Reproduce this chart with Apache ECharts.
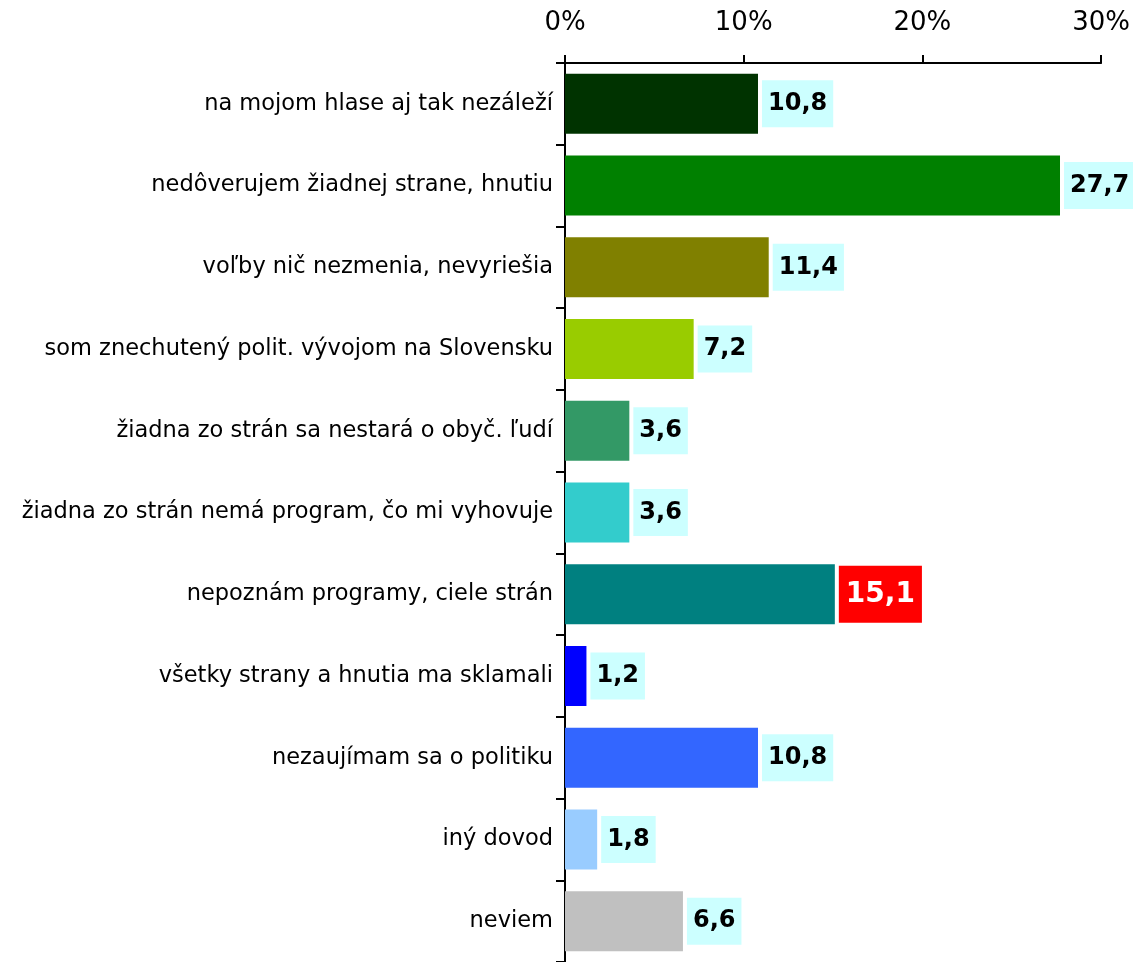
<!DOCTYPE html>
<html lang="sk">
<head>
    <meta charset="UTF-8">
    <title>Dôvody neúčasti</title>
    <style>
        html, body { margin: 0; padding: 0; background: #fff; }
        #main { width: 1133px; height: 962px; }
    </style>
</head>
<body>
<div id="main"></div>
<script src="https://cdn.jsdelivr.net/npm/echarts@6/dist/echarts.min.js"></script>
<script>
    var categories = [
        'na mojom hlase aj tak nezáleží',
        'nedôverujem žiadnej strane, hnutiu',
        'voľby nič nezmenia, nevyriešia',
        'som znechutený polit. vývojom na Slovensku',
        'žiadna zo strán sa nestará o obyč. ľudí',
        'žiadna zo strán nemá program, čo mi vyhovuje',
        'nepoznám programy, ciele strán',
        'všetky strany a hnutia ma sklamali',
        'nezaujímam sa o politiku',
        'iný dovod',
        'neviem'
    ];
    var values = [10.8, 27.7, 11.4, 7.2, 3.6, 3.6, 15.1, 1.2, 10.8, 1.8, 6.6];
    var colors = ['#003300', '#008000', '#808000', '#99CC00', '#339966', '#33CCCC',
                  '#008080', '#0000FF', '#3366FF', '#99CCFF', '#C0C0C0'];
    var highlightIndex = 6; // red label

    var font = 'DejaVu Sans';

    var data = values.map(function (v, i) {
        var item = {value: v, itemStyle: {color: colors[i]}};
        if (i === highlightIndex) {
            item.label = {
                color: '#fff',
                backgroundColor: '#FF0000',
                fontSize: 28,
                padding: [15, 7, 14, 7]
            };
        }
        return item;
    });

    var chart = echarts.init(document.getElementById('main'));
    chart.setOption({
        animation: false,
        grid: {left: 565, right: 31, top: 63, bottom: -3},
        xAxis: {
            type: 'value',
            position: 'top',
            min: 0,
            max: 30,
            interval: 10,
            axisLine: {show: true, lineStyle: {color: '#000', width: 2}},
            axisTick: {show: true, length: 8, lineStyle: {color: '#000', width: 2}},
            splitLine: {show: false},
            axisLabel: {
                formatter: '{value}%',
                color: '#000',
                fontFamily: font,
                fontSize: 26,
                margin: 27
            }
        },
        yAxis: {
            type: 'category',
            data: categories,
            inverse: true,
            axisLine: {show: true, lineStyle: {color: '#000', width: 2}},
            axisTick: {show: true, length: 9, lineStyle: {color: '#000', width: 2}},
            axisLabel: {
                color: '#000',
                fontFamily: font,
                fontSize: 22.5,
                margin: 12
            }
        },
        series: [{
            type: 'bar',
            data: data,
            barWidth: 60,
            label: {
                show: true,
                position: 'right',
                distance: 4,
                formatter: function (p) {
                    return p.value.toFixed(1).replace('.', ',');
                },
                color: '#000',
                fontFamily: font,
                fontWeight: 'bold',
                fontSize: 24,
                backgroundColor: '#CCFFFF',
                padding: [12, 6, 11, 6]
            }
        }]
    });
</script>
</body>
</html>
